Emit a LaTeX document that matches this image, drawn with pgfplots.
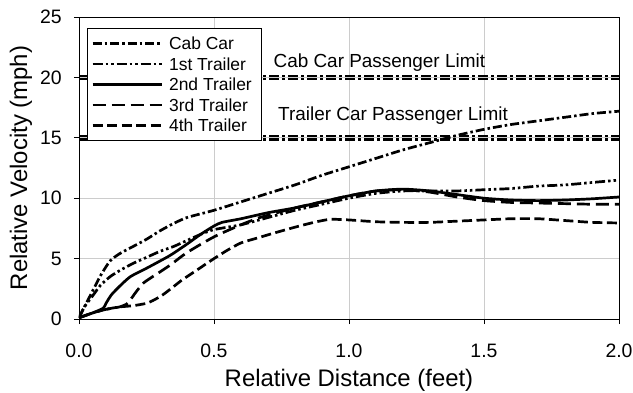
\documentclass[border=0pt]{standalone}
\usepackage{pgfplots}
\pgfplotsset{compat=1.18}
\usepackage{fontspec}
\setmainfont{Liberation Sans}

\pgfplotstableread{
x y
0 0.1
0.02 1.0
0.05 2.3
0.08 3.6
0.115 4.8
0.15 5.4
0.2 6.0
0.25 6.6
0.3 7.3
0.35 7.9
0.4 8.4
0.5 9.0
0.6 9.7
0.7 10.4
0.8 11.1
0.9 11.9
1.0 12.6
1.1 13.3
1.2 14.0
1.3 14.6
1.4 15.2
1.5 15.7
1.6 16.1
1.7 16.4
1.8 16.7
1.9 17.0
2.0 17.2
}\cabcar

\pgfplotstableread{
x y
0 0.1
0.02 1.0
0.05 1.9
0.08 2.8
0.115 3.5
0.15 4.0
0.2 4.6
0.25 5.1
0.3 5.6
0.35 6.0
0.4 6.5
0.45 7.0
0.5 7.4
0.6 7.8
0.7 8.4
0.8 9.0
0.9 9.5
1.0 10.0
1.1 10.4
1.2 10.6
1.3 10.6
1.4 10.6
1.5 10.7
1.6 10.8
1.7 11.0
1.8 11.1
1.9 11.3
2.0 11.5
}\firsttr

\pgfplotstableread{
x y
0 0.1
0.05 0.5
0.09 0.9
0.1 1.3
0.12 2.0
0.15 2.7
0.19 3.5
0.25 4.2
0.3 4.8
0.34 5.3
0.4 6.2
0.45 7.0
0.5 7.7
0.53 8.0
0.6 8.3
0.7 8.8
0.8 9.2
0.9 9.7
1.0 10.2
1.1 10.6
1.2 10.75
1.3 10.6
1.4 10.3
1.5 10.0
1.6 9.85
1.7 9.8
1.8 9.85
1.9 9.95
2.0 10.1
}\secondtr

\pgfplotstableread{
x y
0 0.1
0.05 0.5
0.1 0.8
0.15 1.0
0.18 1.3
0.21 2.2
0.24 3.0
0.3 3.9
0.34 4.5
0.4 5.5
0.5 6.8
0.6 7.8
0.67 8.4
0.75 8.9
0.8 9.2
0.9 9.7
1.0 10.2
1.1 10.6
1.2 10.7
1.3 10.5
1.4 10.1
1.5 9.8
1.6 9.65
1.7 9.6
1.8 9.55
1.9 9.5
2.0 9.5
}\thirdtr

\pgfplotstableread{
x y
0 0.1
0.05 0.5
0.1 0.8
0.15 1.0
0.2 1.1
0.25 1.3
0.28 1.6
0.31 2.0
0.34 2.5
0.38 3.2
0.42 3.8
0.5 5.0
0.55 5.7
0.6 6.3
0.66 6.7
0.72 7.1
0.8 7.6
0.87 8.0
0.93 8.25
1.0 8.2
1.1 8.05
1.2 8.0
1.3 8.0
1.4 8.1
1.5 8.2
1.6 8.3
1.7 8.3
1.8 8.15
1.9 8.0
2.0 7.95
}\fourthtr

\pgfplotstableread{
x y
0 20.14
2 20.14
}\cablimA
\pgfplotstableread{
x y
0 19.86
2 19.86
}\cablimB
\pgfplotstableread{
x y
0 15.14
2 15.14
}\trlimA
\pgfplotstableread{
x y
0 14.86
2 14.86
}\trlimB

\begin{document}
\begin{tikzpicture}
\begin{axis}[
  name=ax,
  scale only axis,
  width=540bp, height=302bp,
  xmin=0, xmax=2, ymin=0, ymax=25,
  xtick={0,0.5,1,1.5,2},
  xticklabels={0.0,0.5,1.0,1.5,2.0},
  ytick={0,5,10,15,20,25},
  yticklabels={0,5,10,15,20,25},
  tick align=outside,
  xtick pos=bottom, ytick pos=left,
  major tick length=5bp,
  every tick/.style={black, line width=0.8bp},
  axis line style={black, line width=0.8bp},
  grid=major,
  major grid style={gray!40, line width=0.8bp},
  tick label style={font=\fontsize{19.5}{21}\selectfont},
  xticklabel style={inner sep=0pt, anchor=north, yshift=-20bp},
  yticklabel style={inner sep=0pt, anchor=east, xshift=-12bp},
  xlabel={Relative Distance (feet)},
  ylabel={Relative Velocity (mph)},
  every axis x label/.style={at={(axis description cs:0.5,-0.202)}, anchor=center, font=\fontsize{24}{26}\selectfont},
  every axis y label/.style={at={(axis description cs:-0.1074,0.5)}, rotate=90, anchor=center, font=\fontsize{24}{26}\selectfont},
  legend style={at={(axis description cs:0.0148,0.9636)}, anchor=north west,
     draw=black, line width=0.8bp, fill=white,
     font=\fontsize{17.5}{19}\selectfont,
     inner xsep=4bp, inner ysep=5bp, row sep=0pt,
     nodes={text height=12.5bp, text depth=0bp, inner ysep=4bp, inner xsep=6bp}},
  legend cell align=left,
  legend image code/.code={\draw[#1] (0bp,0bp) -- (69bp,0bp);},
]
% limit lines
\addplot[forget plot, black, line width=2.2bp, dash pattern=on 10bp off 3bp on 3bp off 3bp] table {\cablimA};
\addplot[forget plot, black, line width=2.2bp, dash pattern=on 10bp off 3bp on 3bp off 3bp] table {\cablimB};
\addplot[forget plot, black, line width=2.2bp, dash pattern=on 10bp off 3bp on 3bp off 3bp] table {\trlimA};
\addplot[forget plot, black, line width=2.2bp, dash pattern=on 10bp off 3bp on 3bp off 3bp] table {\trlimB};

\addplot[black, line width=2.7bp, smooth, tension=0.4, dash pattern=on 9bp off 3bp on 2.5bp off 3bp] table {\cabcar};
\addlegendentry{Cab Car}
\addplot[black, line width=2.7bp, smooth, tension=0.4, dash pattern=on 10bp off 3bp on 2.5bp off 3bp on 2.5bp off 3bp] table {\firsttr};
\addlegendentry{1st Trailer}
\addplot[black, line width=2.7bp, smooth, tension=0.4] table {\secondtr};
\addlegendentry{2nd Trailer}
\addplot[black, line width=2.7bp, smooth, tension=0.4, dash pattern=on 13bp off 6bp] table {\thirdtr};
\addlegendentry{3rd Trailer}
\addplot[black, line width=2.7bp, smooth, tension=0.4, dash pattern=on 10bp off 4.5bp] table {\fourthtr};
\addlegendentry{4th Trailer}

\node[anchor=base west, inner sep=0pt, font=\fontsize{19}{21}\selectfont] at (axis cs:0.72,20.78) {Cab Car Passenger Limit};
\node[anchor=base west, inner sep=0pt, font=\fontsize{19}{21}\selectfont] at (axis cs:0.737,16.47) {Trailer Car Passenger Limit};
\end{axis}
\pgfresetboundingbox
\path ([shift={(-79bp,-74bp)}]ax.south west) rectangle ([shift={(14bp,17bp)}]ax.north east);
\end{tikzpicture}
\end{document}
